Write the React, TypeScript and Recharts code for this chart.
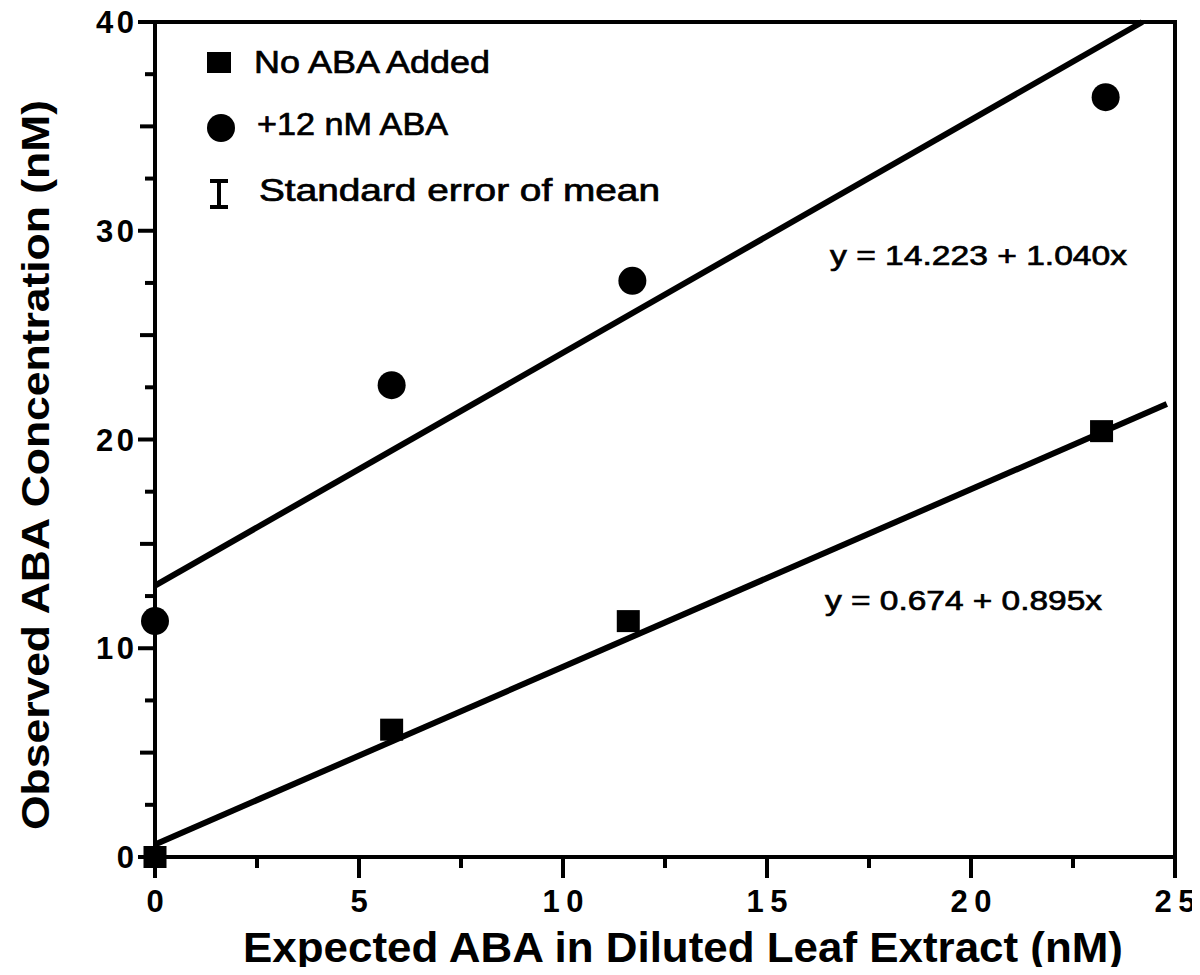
import { ScatterChart, Scatter, XAxis, YAxis, ReferenceArea } from 'recharts';

// readings taken off the plot
const noAbaAdded = [
  { x: 0, y: 0 },
  { x: 5.8, y: 6.1 },
  { x: 11.6, y: 11.3 },
  { x: 23.2, y: 20.4 },
];

const plus12nM = [
  { x: 0, y: 11.3 },
  { x: 5.8, y: 22.6 },
  { x: 11.7, y: 27.6 },
  { x: 23.3, y: 36.4 },
];

// regression lines as drawn
const fitNoAba = [
  { x: 0, y: 0.6 },
  { x: 24.8, y: 21.7 },
];
const fitPlus12 = [
  { x: 0, y: 13.0 },
  { x: 24.2, y: 40 },
];

const xTicks = [0, 2.5, 5, 7.5, 10, 12.5, 15, 17.5, 20, 22.5, 25];
const xLabels = [0, 5, 10, 15, 20, 25];
const yTicks = [0, 2.5, 5, 7.5, 10, 12.5, 15, 17.5, 20, 22.5, 25, 27.5, 30, 32.5, 35, 37.5, 40];
const yLabels = [0, 10, 20, 30, 40];

const eqPlus12 = 'y = 14.223 + 1.040x';
const eqNoAba = 'y = 0.674 + 0.895x';

const FONT = '"Liberation Sans", Arial, Helvetica, sans-serif';
const INK = '#000';

function XTick(props: any) {
  const { x, y, payload } = props;
  const v = payload.value;
  const major = v % 5 === 0;
  const label = xLabels.includes(v) ? String(v) : null;
  return (
    <g>
      <line x1={x} y1={y} x2={x} y2={y + (major ? 21 : 11)} stroke={INK} strokeWidth={4} />
      {label && (
        <text
          x={x}
          y={y + 55}
          textAnchor="middle"
          fontFamily={FONT}
          fontWeight={700}
          fontSize={31}
          fill={INK}
          textLength={label.length > 1 ? 41 : undefined}
          lengthAdjust="spacing"
        >
          {label}
        </text>
      )}
    </g>
  );
}

function YTick(props: any) {
  const { x, y, payload } = props;
  const v = payload.value;
  const len = v % 10 === 0 ? 17 : v % 5 === 0 ? 15 : 10;
  const label = yLabels.includes(v) ? String(v) : null;
  return (
    <g>
      <line x1={x} y1={y} x2={x - len} y2={y} stroke={INK} strokeWidth={4} />
      {label && (
        <text
          x={x - 21}
          y={y + 11}
          textAnchor="end"
          fontFamily={FONT}
          fontWeight={700}
          fontSize={31}
          fill={INK}
          textLength={label.length > 1 ? 38 : undefined}
          lengthAdjust="spacing"
        >
          {label}
        </text>
      )}
    </g>
  );
}

const SquareDot = (p: any) => (
  <rect x={p.cx - 11.5} y={p.cy - 11} width={23} height={22} fill={INK} />
);
const CircleDot = (p: any) => <circle cx={p.cx} cy={p.cy} r={14} fill={INK} />;
const NoDot = () => <g />;

function Overlay() {
  const txt = { fontFamily: FONT, fill: INK } as const;
  const medium = { stroke: INK, strokeWidth: 0.7 } as const;
  return (
    <svg
      width={1200}
      height={975}
      style={{ position: 'absolute', left: 0, top: 0, pointerEvents: 'none' }}
    >
      {/* legend */}
      <rect x={207} y={52} width={24} height={21} fill={INK} />
      <text x={254} y={73} fontSize={31} textLength={236} lengthAdjust="spacingAndGlyphs" {...txt} {...medium}>
        No ABA Added
      </text>
      <circle cx={221} cy={128} r={14} fill={INK} />
      <text x={257} y={135} fontSize={31} textLength={191} lengthAdjust="spacingAndGlyphs" {...txt} {...medium}>
        +12 nM ABA
      </text>
      <g stroke={INK} strokeWidth={4}>
        <line x1={219} y1={181} x2={219} y2={207} />
        <line x1={210} y1={181} x2={228} y2={181} />
        <line x1={210} y1={207} x2={228} y2={207} />
      </g>
      <text x={259} y={201} fontSize={31} textLength={401} lengthAdjust="spacingAndGlyphs" {...txt} {...medium}>
        Standard error of mean
      </text>

      {/* fitted equations */}
      <text x={830} y={265} fontSize={28} textLength={297} lengthAdjust="spacingAndGlyphs" {...txt} {...medium}>
        {eqPlus12}
      </text>
      <text x={825} y={610} fontSize={28} textLength={277} lengthAdjust="spacingAndGlyphs" {...txt} {...medium}>
        {eqNoAba}
      </text>

      {/* axis titles */}
      <text
        x={683}
        y={962}
        textAnchor="middle"
        fontSize={43}
        fontWeight={700}
        textLength={880}
        lengthAdjust="spacingAndGlyphs"
        {...txt}
      >
        Expected ABA in Diluted Leaf Extract (nM)
      </text>
      <text
        x={0}
        y={0}
        transform="translate(49 465) rotate(-90)"
        textAnchor="middle"
        fontSize={38}
        fontWeight={700}
        textLength={730}
        lengthAdjust="spacingAndGlyphs"
        {...txt}
      >
        Observed ABA Concentration (nM)
      </text>
    </svg>
  );
}

export default function App() {
  return (
    <div style={{ position: 'relative', margin: -8, width: 1200, height: 975, background: '#fff' }}>
      <ScatterChart width={1200} height={975} margin={{ top: 22, right: 25, bottom: 0, left: 0 }}>
        <XAxis
          type="number"
          dataKey="x"
          domain={[0, 25]}
          ticks={xTicks}
          interval={0}
          height={118}
          tickSize={0}
          tickMargin={0}
          tickLine={false}
          axisLine={{ stroke: INK, strokeWidth: 4 }}
          tick={<XTick />}
        />
        <YAxis
          type="number"
          dataKey="y"
          domain={[0, 40]}
          ticks={yTicks}
          interval={0}
          width={155}
          tickSize={0}
          tickMargin={0}
          tickLine={false}
          axisLine={{ stroke: INK, strokeWidth: 4 }}
          tick={<YTick />}
        />
        <ReferenceArea x1={0} x2={25} y1={0} y2={40} fill="none" stroke={INK} strokeWidth={4} />
        <Scatter
          data={fitPlus12}
          line={{ stroke: INK, strokeWidth: 6 }}
          shape={NoDot}
          isAnimationActive={false}
        />
        <Scatter
          data={fitNoAba}
          line={{ stroke: INK, strokeWidth: 6 }}
          shape={NoDot}
          isAnimationActive={false}
        />
        <Scatter data={plus12nM} shape={CircleDot} isAnimationActive={false} />
        <Scatter data={noAbaAdded} shape={SquareDot} isAnimationActive={false} />
      </ScatterChart>
      <Overlay />
    </div>
  );
}
